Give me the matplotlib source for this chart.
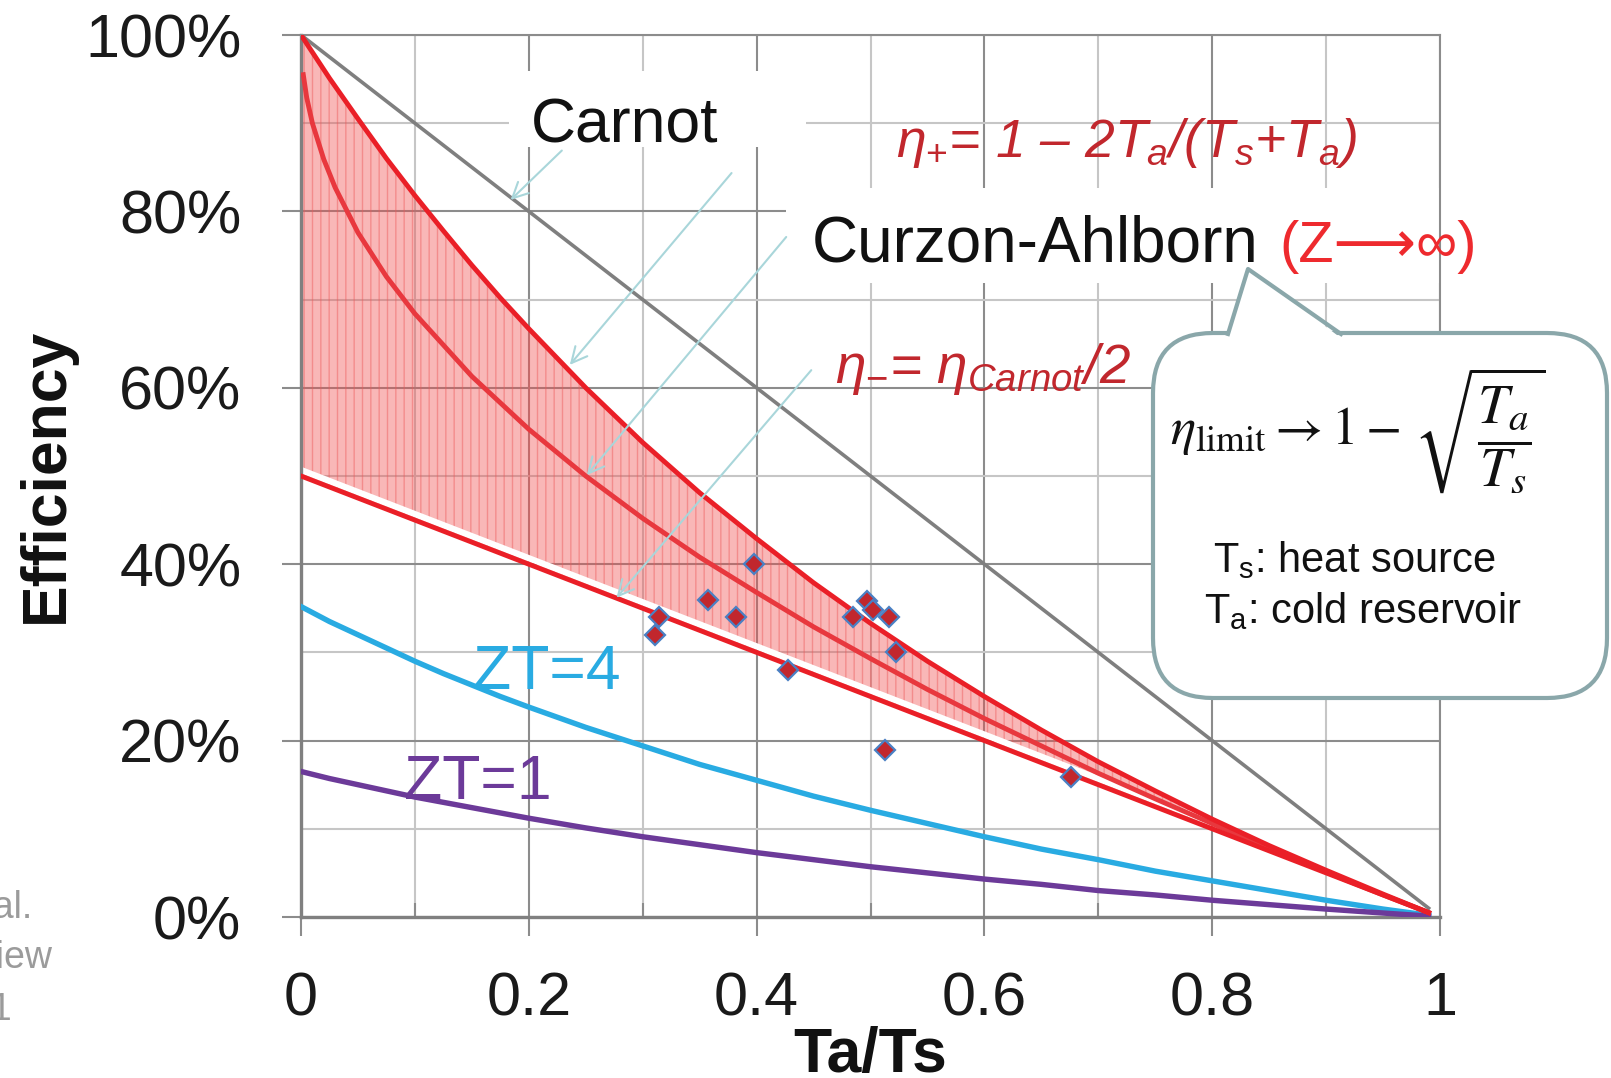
import matplotlib
matplotlib.use('Agg')
import matplotlib.pyplot as plt
import matplotlib.transforms as mtransforms
from matplotlib.patches import FancyBboxPatch, Polygon, Rectangle
from matplotlib.lines import Line2D

plt.rcParams['font.family'] = ['Liberation Sans', 'DejaVu Sans']
plt.rcParams['mathtext.fontset'] = 'custom'
plt.rcParams['mathtext.rm'] = 'Liberation Sans'
plt.rcParams['mathtext.it'] = 'Liberation Sans:italic'
plt.rcParams['mathtext.bf'] = 'Liberation Sans:bold'
plt.rcParams['hatch.linewidth'] = 1.0

W, H = 1611, 1078

# values (x = Ta/Ts, y = efficiency)
x_grid = [0, 0.025, 0.05, 0.075, 0.1, 0.125, 0.15, 0.175, 0.2, 0.25, 0.3, 0.35, 0.4,
          0.45, 0.5, 0.55, 0.6, 0.65, 0.7, 0.75, 0.8, 0.85, 0.9, 0.95, 0.99]
eta_plus = [1.0, 0.951, 0.905, 0.860, 0.818, 0.778, 0.739, 0.702, 0.667, 0.600, 0.538,
            0.481, 0.429, 0.379, 0.333, 0.290, 0.250, 0.212, 0.176, 0.143, 0.111, 0.081,
            0.053, 0.026, 0.005]
eta_minus = [0.5, 0.4875, 0.475, 0.4625, 0.45, 0.4375, 0.425, 0.4125, 0.4, 0.375, 0.35,
             0.325, 0.3, 0.275, 0.25, 0.225, 0.2, 0.175, 0.15, 0.125, 0.1, 0.075, 0.05,
             0.025, 0.005]
zt4 = [0.352, 0.335, 0.320, 0.305, 0.290, 0.276, 0.263, 0.250, 0.238, 0.215, 0.194,
       0.173, 0.155, 0.137, 0.121, 0.106, 0.091, 0.077, 0.065, 0.052, 0.041, 0.030,
       0.019, 0.009, 0.002]
zt1 = [0.165, 0.157, 0.150, 0.143, 0.136, 0.130, 0.124, 0.118, 0.112, 0.101, 0.091,
       0.082, 0.073, 0.065, 0.057, 0.050, 0.043, 0.037, 0.030, 0.025, 0.019, 0.014,
       0.009, 0.0045, 0.001]

ca_x = [0.002, 0.005, 0.01, 0.02, 0.03, 0.05, 0.075, 0.1, 0.15, 0.2, 0.25, 0.3, 0.35,
        0.4, 0.45, 0.5, 0.55, 0.6, 0.65, 0.7, 0.75, 0.8, 0.85, 0.9, 0.95, 0.99]
ca_eta = [0.955, 0.929, 0.900, 0.859, 0.827, 0.776, 0.726, 0.684, 0.613, 0.553, 0.500,
          0.452, 0.408, 0.368, 0.329, 0.293, 0.258, 0.225, 0.194, 0.163, 0.134, 0.106,
          0.078, 0.051, 0.025, 0.005]

carnot_x = [0, 0.99]
carnot_eta = [1.0, 0.01]

exp_x = [0.398, 0.357, 0.314, 0.311, 0.382, 0.428, 0.497, 0.502, 0.485, 0.516,
         0.522, 0.513, 0.676]
exp_eta = [0.400, 0.359, 0.340, 0.320, 0.340, 0.280, 0.358, 0.348, 0.340, 0.340,
           0.301, 0.189, 0.159]

x_ticks = [0, 0.2, 0.4, 0.6, 0.8, 1.0]
x_labels = ['0', '0.2', '0.4', '0.6', '0.8', '1']
y_ticks = [0, 0.2, 0.4, 0.6, 0.8, 1.0]
y_labels = ['0%', '20%', '40%', '60%', '80%', '100%']
minor_ticks = [0.1, 0.3, 0.5, 0.7, 0.9]

fig = plt.figure(figsize=(W / 100, H / 100), dpi=100)
ax = fig.add_axes([301 / W, 1 - 917 / H, 1139 / W, 882 / H])
ax.set_xlim(0, 1)
ax.set_ylim(0, 1)

# pixel coords, y measured from top of the image
PX = mtransforms.Affine2D().scale(1 / W, -1 / H).translate(0, 1) + fig.transFigure

ax.set_xticks(x_ticks)
ax.set_xticklabels(x_labels)
ax.set_yticks(y_ticks)
ax.set_yticklabels(y_labels)
ax.set_xticks(minor_ticks, minor=True)
ax.set_yticks(minor_ticks, minor=True)
ax.set_axisbelow(True)
ax.grid(which='major', color='#8c8c8c', lw=1.5)
ax.grid(which='minor', color='#c6c6c6', lw=1.5)
ax.tick_params(which='major', direction='out', length=14, width=1.5, color='#8c8c8c',
               labelsize=44, labelcolor='#1a1a1a')
ax.tick_params(axis='x', which='major', pad=25)
ax.tick_params(axis='y', which='major', pad=29)
ax.tick_params(axis='x', which='minor', direction='in', length=10, width=1.5, color='#8c8c8c')
ax.tick_params(axis='y', which='minor', length=0)
for s in ['left', 'bottom']:
    ax.spines[s].set_color('#808080')
    ax.spines[s].set_linewidth(2.4)
for s in ['top', 'right']:
    ax.spines[s].set_color('#8c8c8c')
    ax.spines[s].set_linewidth(1.5)

# white patches behind the two black labels
ax.add_patch(Rectangle((0.183, 0.8725), 0.26, 0.087, fc='white', ec='none', zorder=1.5))
ax.add_patch(Rectangle((0.426, 0.719), 0.6, 0.107, fc='white', ec='none', zorder=1.5,
                       clip_on=False))

# shaded band between the two bounds
ax.fill_between(x_grid, eta_minus, eta_plus, facecolor=(0.94, 0.3, 0.3, 0.4),
                edgecolor=(0.93, 0.35, 0.35, 0.45), hatch='||', linewidth=0, zorder=2)
band = mtransforms.offset_copy(ax.transData, fig=fig, x=0, y=6, units='dots')
n_band = x_grid.index(0.8) + 1
ax.plot(x_grid[:n_band], eta_minus[:n_band], color='white', lw=4.5, transform=band,
        solid_capstyle='butt', zorder=2.5)

ax.plot(carnot_x, carnot_eta, color='#7f7f7f', lw=2.6, zorder=3)
ax.plot(x_grid, zt4, color='#29abe2', lw=3.9, zorder=3)
ax.plot(x_grid, zt1, color='#6c3a99', lw=3.9, zorder=3)
ax.plot(ca_x, ca_eta, color='#e8383e', lw=3.5, zorder=3.1)
ax.plot(x_grid, eta_minus, color='#ea1f27', lw=3.5, zorder=3.2)
ax.plot(x_grid, eta_plus, color='#ea1f27', lw=3.5, zorder=3.2)

# arrows from the labels
arrow_kw = dict(arrowstyle='->', color='#a9d6da', lw=1.5, shrinkA=0, shrinkB=0,
                mutation_scale=28)
for start, tip in [((0.229, 0.869), (0.184, 0.813)),
                   ((0.378, 0.8435), (0.236, 0.626)),
                   ((0.426, 0.771), (0.251, 0.501)),
                   ((0.448, 0.620), (0.277, 0.362))]:
    ax.annotate('', xy=tip, xytext=start, arrowprops=arrow_kw, zorder=4)

ax.plot(exp_x, exp_eta, ls='none', marker='D', ms=10.5, mfc='#c1272d', mec='#4a80c4',
        mew=1.6, zorder=5)

# labels
ax.text(0.202, 0.878, 'Carnot', fontsize=45, color='#111111', zorder=6)
ax.text(0.448, 0.743, 'Curzon-Ahlborn', fontsize=46, color='#111111', zorder=6)
ax.text(0.859, 0.743, '(Z⟶∞)', fontsize=41.5, color='#ee2a2e', zorder=6, clip_on=False,
        family=['Liberation Sans', 'DejaVu Sans'])
ax.text(0.5226, 0.862, r'$η_{+}$= 1 – 2$T_a$/($T_s$+$T_a$)', fontsize=38.5, style='italic',
        color='#c1272d', zorder=6)
ax.text(0.4685, 0.606, r'$η_{-}$= $η_{Carnot}$/2', fontsize=39.5, style='italic',
        color='#c1272d', zorder=6)
ax.text(0.151, 0.258, 'ZT=4', fontsize=45, color='#29abe2', zorder=6)
ax.text(0.0907, 0.134, 'ZT=1', fontsize=45, color='#6c3a99', zorder=6)

# callout bubble
ec = '#8aa7aa'
bubble = FancyBboxPatch((1153, 333), 454, 365, boxstyle='round,pad=0,rounding_size=60',
                        transform=PX, fc='white', ec=ec, lw=3, clip_on=False, zorder=7)
ax.add_patch(bubble)
ax.add_patch(Polygon([(1228, 338), (1248, 269), (1341, 338)], closed=True, transform=PX,
                     fc='white', ec='none', clip_on=False, zorder=7.1))
ax.add_line(Line2D([1228, 1248, 1341], [334, 269, 334], transform=PX, color=ec, lw=3,
                   clip_on=False, zorder=7.2))
fig.text(1170, 444, r'$\eta_{\mathrm{limit}}\rightarrow 1-$', transform=PX, fontsize=38,
         math_fontfamily='stix', ha='left', va='baseline', color='#111111', zorder=8)
fig.text(1546, 430, r'$\sqrt{\dfrac{T_a}{T_s}}$', transform=PX, fontsize=40,
         math_fontfamily='stix', ha='right', va='center', color='#111111', zorder=8)
fig.text(1354, 572, r'T$_{\mathrm{s}}$: heat source', transform=PX, fontsize=30,
         ha='center', va='baseline', color='#111111', zorder=8)
fig.text(1363, 623, r'T$_{\mathrm{a}}$: cold reservoir', transform=PX, fontsize=30,
         ha='center', va='baseline', color='#111111', zorder=8)

# axis titles
fig.text(46, 475, 'Efficiency', transform=PX, rotation=90, fontsize=45,
         fontweight='bold', ha='center', va='center', color='#111111')
fig.text(870, 1026, 'Ta/Ts', transform=PX, fontsize=45, fontweight='bold',
         ha='center', va='top', color='#111111')

# cut-off citation at the left edge
for s, xr, yb in [('et al.', 32, 918), ('Review', 53, 968), ('2011', 12, 1020)]:
    fig.text(xr, yb, s, transform=PX, fontsize=27, color='#9b9b9b', ha='right',
             va='baseline')

fig.savefig('out.png', dpi=100)
